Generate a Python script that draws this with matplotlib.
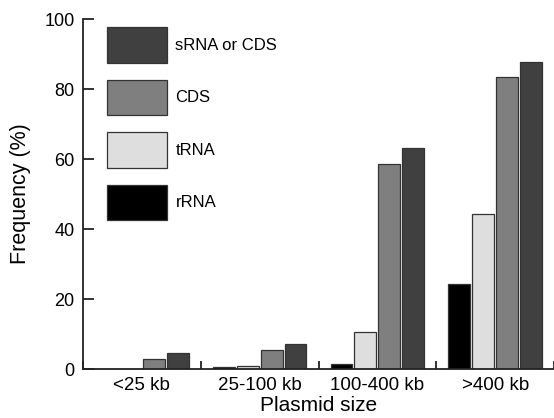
import matplotlib
matplotlib.use("Agg")
import matplotlib.pyplot as plt
import numpy as np

plt.rcParams['font.family'] = ['Liberation Sans', 'DejaVu Sans']

categories = ["<25 kb", "25-100 kb", "100-400 kb", ">400 kb"]
series_names = ["rRNA", "tRNA", "CDS", "sRNA or CDS"]
rRNA = [0.0, 0.5, 1.3, 24.2]
tRNA = [0.0, 0.9, 10.5, 44.2]
CDS = [2.8, 5.3, 58.6, 83.5]
sRNA_or_CDS = [4.7, 7.2, 63.1, 87.7]
colors = ["#000000", "#dedede", "#7f7f7f", "#404040"]

values = [rRNA, tRNA, CDS, sRNA_or_CDS]

fig = plt.figure(figsize=(5.54, 4.18), dpi=100)
ax = fig.add_axes([83/554, 49/418, 471/554, 350/418])

x = np.arange(len(categories))
bw = 0.186
gap = 0.017
handles = {}
for i, (name, vals, c) in enumerate(zip(series_names, values, colors)):
    off = (i - 1.5) * (bw + gap)
    b = ax.bar(x + off, vals, width=bw, color=c, edgecolor="#333333", linewidth=0.9, zorder=2)
    handles[name] = b

ax.set_xlim(-0.5, len(categories) - 0.5)
ax.set_ylim(0, 100)
ax.spines['top'].set_visible(False)
ax.spines['right'].set_visible(False)
ax.spines['left'].set_color("#222222")
ax.spines['bottom'].set_color("#222222")
ax.spines['left'].set_linewidth(1.3)
ax.spines['bottom'].set_linewidth(1.3)

ax.set_yticks([0, 20, 40, 60, 80, 100])
ax.tick_params(axis='y', direction='in', length=8, width=1.3, labelsize=13, pad=6, color="#222222")

ax.set_xticks(np.arange(len(categories) + 1) - 0.5)
ax.set_xticklabels([])
ax.tick_params(axis='x', which='major', direction='in', length=6, width=1.3, color="#222222")
ax.set_xticks(x, minor=True)
ax.set_xticklabels(categories, minor=True)
ax.tick_params(axis='x', which='minor', length=0, labelsize=13.5, pad=6)

ax.set_ylabel("Frequency (%)", fontsize=15.5, labelpad=10)
ax.set_xlabel("Plasmid size", fontsize=15, labelpad=1)

order = ["sRNA or CDS", "CDS", "tRNA", "rRNA"]
leg = ax.legend([handles[n] for n in order], order, loc='upper left',
                bbox_to_anchor=(0.037, 0.996), frameon=False, fontsize=12,
                handlelength=3.6, handleheight=2.9, labelspacing=1.02,
                handletextpad=0.5, borderaxespad=0)

fig.savefig("out.png", dpi=100)
